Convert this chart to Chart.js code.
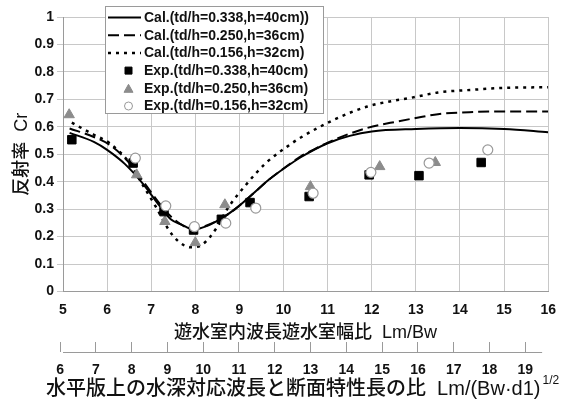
<!DOCTYPE html>
<html>
<head>
<meta charset="utf-8">
<script src="https://cdn.jsdelivr.net/npm/chart.js@4.4.1/dist/chart.umd.min.js"></script>
<style>
  html, body { margin: 0; padding: 0; background: #fff; }
</style>
</head>
<body>
<canvas id="grafico" width="566" height="411"></canvas>
<script>
// curvas calculadas
const calX1 = [5.15, 5.7, 6.0, 6.4, 6.8, 7.2, 7.45, 7.7, 7.95, 8.3, 8.6, 8.9, 9.3, 9.65, 10.0, 10.4, 11.0, 11.5, 12.0, 13.0, 14.0, 15.0, 16.0];
const calY1 = [0.578, 0.545, 0.516, 0.465, 0.395, 0.31, 0.262, 0.243, 0.226, 0.241, 0.267, 0.3, 0.355, 0.405, 0.447, 0.49, 0.54, 0.567, 0.583, 0.592, 0.596, 0.592, 0.58];
const calX2 = [5.15, 5.7, 6.05, 6.45, 6.8, 7.2, 7.5, 7.95, 8.3, 8.6, 8.9, 9.3, 9.65, 10.0, 10.4, 10.6, 11.15, 11.9, 12.6, 13.0, 13.5, 14.3, 15.0, 16.0];
const calY2 = [0.594, 0.563, 0.535, 0.478, 0.405, 0.318, 0.265, 0.228, 0.243, 0.267, 0.3, 0.355, 0.405, 0.448, 0.493, 0.51, 0.553, 0.596, 0.62, 0.632, 0.646, 0.654, 0.656, 0.656];
const calX3 = [5.2, 5.7, 6.05, 6.5, 6.8, 7.1, 7.4, 7.62, 7.9, 8.15, 8.5, 8.7, 9.15, 9.6, 10.2, 10.4, 11.15, 11.9, 13.0, 13.5, 14.3, 15.0, 16.0];
const calY3 = [0.615, 0.571, 0.541, 0.47, 0.39, 0.31, 0.224, 0.182, 0.161, 0.17, 0.236, 0.295, 0.389, 0.468, 0.541, 0.562, 0.626, 0.674, 0.709, 0.725, 0.735, 0.742, 0.744];

// pontos experimentais
const expX1 = [5.2, 6.59, 7.29, 7.96, 8.59, 9.24, 10.58, 11.94, 13.07, 14.48];
const expY1 = [0.553, 0.468, 0.291, 0.224, 0.263, 0.324, 0.346, 0.425, 0.422, 0.47];
const expX2 = [5.14, 6.67, 7.31, 8.0, 8.67, 10.61, 12.18, 13.44];
const expY2 = [0.644, 0.425, 0.255, 0.178, 0.316, 0.382, 0.455, 0.47];
const expX3 = [6.64, 7.33, 7.98, 8.69, 9.37, 10.67, 11.98, 13.30, 14.63];
const expY3 = [0.486, 0.312, 0.236, 0.249, 0.304, 0.358, 0.434, 0.468, 0.516];

const nomes = [
  'Cal.(td/h=0.338,h=40cm))',
  'Cal.(td/h=0.250,h=36cm)',
  'Cal.(td/h=0.156,h=32cm)',
  'Exp.(td/h=0.338,h=40cm)',
  'Exp.(td/h=0.250,h=36cm)',
  'Exp.(td/h=0.156,h=32cm)'
];

const ticksX2 = [6, 7, 8, 9, 10, 11, 12, 13, 14, 15, 16, 17, 18, 19];
const tituloY = '反射率  Cr';
const tituloX1 = '遊水室内波長遊水室幅比  Lm/Bw';
const tituloX2 = '水平版上の水深対応波長と断面特性長の比  Lm/(Bw·d1)';
const expoente = '1/2';

const par = (xs, ys) => xs.map((x, i) => ({ x: x, y: ys[i] }));
const fonteNum = { family: '"Liberation Sans", Arial, sans-serif', size: 14, weight: 'bold' };
const fonteTit = '"Liberation Sans", "Noto Sans CJK JP", sans-serif';

// legenda dentro da área do gráfico
const legendaBox = {
  id: 'legendaBox',
  beforeDatasetsDraw(chart) {
    const ctx = chart.ctx;
    const x0 = 105, y0 = 6, w = 218, h = 107;
    ctx.save();
    ctx.fillStyle = '#fff';
    ctx.fillRect(x0, y0, w, h);
    ctx.strokeStyle = '#9a9a9a';
    ctx.lineWidth = 1;
    ctx.strokeRect(x0 + 0.5, y0 + 0.5, w, h);
    ctx.font = 'bold 14px "Liberation Sans", Arial, sans-serif';
    ctx.textBaseline = 'middle';
    chart.data.datasets.forEach((ds, i) => {
      const y = 17.5 + i * 17.7;
      if (ds.showLine) {
        ctx.strokeStyle = ds.borderColor;
        ctx.lineWidth = ds.borderWidth;
        ctx.setLineDash(ds.borderDash || []);
        ctx.beginPath();
        ctx.moveTo(108, y);
        ctx.lineTo(141, y);
        ctx.stroke();
        ctx.setLineDash([]);
      } else {
        ctx.fillStyle = ds.backgroundColor;
        ctx.strokeStyle = ds.borderColor;
        ctx.lineWidth = 1;
        ctx.beginPath();
        if (ds.pointStyle === 'rect') {
          ctx.rect(125, y - 3.5, 7, 7);
        } else if (ds.pointStyle === 'triangle') {
          ctx.moveTo(128.5, y - 4);
          ctx.lineTo(133, y + 4);
          ctx.lineTo(124, y + 4);
          ctx.closePath();
        } else {
          ctx.arc(128.5, y, 4, 0, Math.PI * 2);
        }
        ctx.fill();
        ctx.stroke();
      }
      ctx.fillStyle = '#111';
      ctx.fillText(nomes[i], 144, y + 0.5);
    });
    ctx.restore();
  }
};

// linha do segundo eixo e título com expoente
const eixo2 = {
  id: 'eixo2',
  afterDraw(chart) {
    const ctx = chart.ctx;
    const s = chart.scales.x2;
    const yLinha = s.top + 10.5;
    ctx.save();
    ctx.strokeStyle = '#9a9a9a';
    ctx.lineWidth = 1;
    ctx.beginPath();
    ctx.moveTo(s.left, yLinha);
    ctx.lineTo(s.getPixelForValue(19.47), yLinha);
    ctx.stroke();
    ctx.fillStyle = '#111';
    ctx.textBaseline = 'middle';
    ctx.font = '500 20px ' + fonteTit;
    ctx.fillText(tituloX2, 46, 389);
    const w = ctx.measureText(tituloX2).width;
    ctx.font = '12px ' + fonteTit;
    ctx.fillText(expoente, 46 + w + 2, 381);
    ctx.restore();
  }
};

const ctx1 = document.getElementById('grafico').getContext('2d');

const grafico = new Chart(ctx1, {
  type: 'scatter',
  data: {
    datasets: [
      { data: par(calX1, calY1), showLine: true, borderColor: '#000', borderWidth: 2,
        pointRadius: 0, cubicInterpolationMode: 'monotone', order: 2 },
      { data: par(calX2, calY2), showLine: true, borderColor: '#000', borderWidth: 2,
        borderDash: [11, 5], pointRadius: 0, cubicInterpolationMode: 'monotone', order: 2 },
      { data: par(calX3, calY3), showLine: true, borderColor: '#000', borderWidth: 2.5,
        borderDash: [3, 5], pointRadius: 0, cubicInterpolationMode: 'monotone', order: 2 },
      { data: par(expX1, expY1), showLine: false, pointStyle: 'rect', pointRadius: 6,
        backgroundColor: '#000', borderColor: '#000', borderWidth: 1, order: 1 },
      { data: par(expX2, expY2), showLine: false, pointStyle: 'triangle', pointRadius: 6,
        backgroundColor: '#8c8c8c', borderColor: '#8c8c8c', borderWidth: 1, order: 1 },
      { data: par(expX3, expY3), showLine: false, pointStyle: 'circle', pointRadius: 5,
        backgroundColor: '#fff', borderColor: '#999', borderWidth: 1.2, order: 0 }
    ]
  },
  options: {
    responsive: false,
    animation: false,
    layout: { padding: { top: 17, right: 13, left: 0, bottom: 0 } },
    plugins: {
      legend: { display: false },
      tooltip: { enabled: false }
    },
    scales: {
      x: {
        type: 'linear',
        position: 'bottom',
        min: 5,
        max: 16,
        afterFit: (s) => { s.height = 50.5; },
        ticks: { stepSize: 1, padding: 10, color: '#111', font: fonteNum, maxRotation: 0 },
        grid: { color: '#c8c8c8', drawTicks: false },
        border: { color: '#9a9a9a' },
        title: { display: true, text: tituloX1, color: '#111',
          font: { family: fonteTit, size: 18, weight: 500, lineHeight: 1 }, padding: { top: 0, bottom: 0 } }
      },
      x2: {
        type: 'linear',
        position: 'bottom',
        min: 6.083,
        max: 19.64,
        afterFit: (s) => { s.height = 69; },
        afterBuildTicks: (s) => { s.ticks = ticksX2.map(v => ({ value: v })); },
        ticks: { padding: 10, color: '#111', font: fonteNum, maxRotation: 0, autoSkip: false },
        grid: { drawOnChartArea: false, drawTicks: true, tickLength: 10, color: '#9a9a9a' },
        border: { display: false }
      },
      y: {
        min: 0,
        max: 1,
        afterFit: (s) => { s.width = 63; },
        ticks: { stepSize: 0.1, padding: 3, color: '#111', font: fonteNum,
          callback: (v) => String(Math.round(v * 10) / 10) },
        grid: { color: '#c8c8c8', tickLength: 6 },
        border: { color: '#9a9a9a' },
        title: { display: true, text: tituloY, color: '#111',
          font: { family: fonteTit, size: 18, weight: 500, lineHeight: 1.2 }, padding: { top: 11, bottom: 0 } }
      }
    }
  },
  plugins: [legendaBox, eixo2]
});
</script>
</body>
</html>
